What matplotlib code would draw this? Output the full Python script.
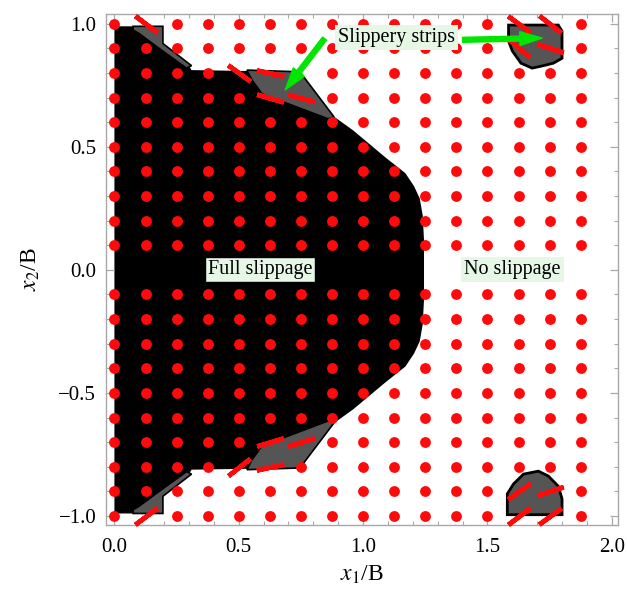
import matplotlib
matplotlib.use("Agg")
import matplotlib.pyplot as plt
from matplotlib.ticker import MultipleLocator

plt.rcParams['font.family'] = ['Liberation Serif', 'DejaVu Serif']
plt.rcParams['mathtext.fontset'] = 'stix'

# grid of sample points (row y = 0 is not drawn)
grid_x = [0.0, 0.125, 0.25, 0.375, 0.5, 0.625, 0.75, 0.875,
          1.0, 1.125, 1.25, 1.375, 1.5, 1.625, 1.75, 1.875]
grid_y = [-1.0, -0.9, -0.8, -0.7, -0.6, -0.5, -0.4, -0.3, -0.2, -0.1,
          0.1, 0.2, 0.3, 0.4, 0.5, 0.6, 0.7, 0.8, 0.9, 1.0]

# points inside slippery strips, drawn as short oriented dashes
seg_x = [0.125, 0.5, 0.625, 0.625, 0.75, 1.625, 1.75, 1.625, 1.75,
         0.125, 0.5, 0.625, 0.625, 0.75, 1.625, 1.75, 1.625, 1.75]
seg_y = [1.0, 0.8, 0.8, 0.7, 0.7, 1.0, 1.0, 0.9, 0.9,
         -1.0, -0.8, -0.8, -0.7, -0.7, -1.0, -1.0, -0.9, -0.9]
seg_ang = [-37, -36, -12, -16, -15, -36, -38, -40, -18,
           37, 38, 12, 17, 17, 37, 36, 35, 18]
# point hidden under the arrow
hidden = [(0.75, 0.8)]

# upper half of the full-slippage region outline (mirrored for lower half)
slip_x = [0.0, 0.195, 0.195, 0.30, 0.31, 0.745, 0.88, 0.96, 1.09, 1.17,
          1.205, 1.228, 1.24, 1.245, 1.245]
slip_y = [0.99, 0.99, 0.92, 0.83, 0.812, 0.805, 0.625, 0.567, 0.457, 0.393,
          0.34, 0.29, 0.22, 0.12, 0.0]

# gray slippery strips (upper half, mirrored)
strip1_x = [0.075, 0.195, 0.195, 0.31, 0.29, 0.18, 0.10, 0.075]
strip1_y = [0.99, 0.99, 0.92, 0.83, 0.82, 0.90, 0.96, 0.975]
strip2_x = [0.533, 0.746, 0.883, 0.859, 0.594, 0.553]
strip2_y = [0.812, 0.805, 0.622, 0.614, 0.715, 0.772]

# corner blobs on the right
blob_tr_x = [1.585, 1.785, 1.80, 1.80, 1.765, 1.725, 1.68, 1.635, 1.60, 1.585]
blob_tr_y = [0.995, 0.995, 0.97, 0.86, 0.84, 0.83, 0.82, 0.84, 0.89, 0.93]
blob_br_x = [1.58, 1.58, 1.605, 1.645, 1.705, 1.745, 1.785, 1.80, 1.80]
blob_br_y = [-0.995, -0.91, -0.87, -0.83, -0.818, -0.838, -0.879, -0.93, -0.995]

red = '#ff0a0a'
gray = '#555555'
green = '#00e600'
label_bg = '#e6f7e6'

fig = plt.figure(figsize=(6.27, 5.98), dpi=100)
ax = fig.add_axes([0.169, 0.122, 0.8166, 0.8546])

# full slippage region
out_x = slip_x + slip_x[::-1]
out_y = slip_y + [-v for v in slip_y[::-1]]
ax.fill(out_x, out_y, color='black', lw=0, zorder=1)

for sx, sy in [(strip1_x, strip1_y), (strip2_x, strip2_y)]:
    ax.fill(sx, sy, facecolor=gray, edgecolor='black', lw=1.2, zorder=2)
    ax.fill(sx, [-v for v in sy], facecolor=gray, edgecolor='black', lw=1.2, zorder=2)
ax.fill(blob_tr_x, blob_tr_y, facecolor=gray, edgecolor='black', lw=2, zorder=2)
ax.fill(blob_br_x, blob_br_y, facecolor=gray, edgecolor='black', lw=2, zorder=2)

# red sample points
skip = set(zip(seg_x, seg_y)) | set(hidden)
dot_x, dot_y = [], []
for gx in grid_x:
    for gy in grid_y:
        if (gx, gy) not in skip:
            dot_x.append(gx)
            dot_y.append(gy)
ax.plot(dot_x, dot_y, 'o', color=red, ms=7.8, mew=0, zorder=3)

for sx, sy, a in zip(seg_x, seg_y, seg_ang):
    ax.plot([sx], [sy], marker=(2, 2, a - 90), color=red, ms=20, mew=3.4,
            linestyle='none', zorder=3, clip_on=False)

# labels
ax.text(0.585, 0.0, 'Full slippage', fontsize=14.5, ha='center', va='center',
        bbox=dict(boxstyle='square,pad=0.15', fc=label_bg, ec='black', lw=1), zorder=4)
ax.text(1.6, 0.0, 'No slippage', fontsize=14.5, ha='center', va='center',
        bbox=dict(boxstyle='square,pad=0.15', fc=label_bg, ec='none'), zorder=4)
ax.text(1.133, 0.943, 'Slippery strips', fontsize=14.5, ha='center', va='center',
        bbox=dict(boxstyle='square,pad=0.15', fc=label_bg, ec='none'), zorder=4)

arrow = dict(arrowstyle='simple,head_length=1.6,head_width=1.0,tail_width=0.36',
             color=green, mutation_scale=10, shrinkA=0, shrinkB=0)
ax.annotate('', xy=(0.687, 0.732), xytext=(0.845, 0.94), arrowprops=arrow, zorder=5)
ax.annotate('', xy=(1.72, 0.942), xytext=(1.40, 0.935), arrowprops=arrow, zorder=5)

ax.set_xlim(-0.034, 2.025)
ax.set_ylim(-1.037, 1.04)
ax.xaxis.set_major_locator(MultipleLocator(0.5))
ax.yaxis.set_major_locator(MultipleLocator(0.5))
ax.xaxis.set_minor_locator(MultipleLocator(0.1))
ax.yaxis.set_minor_locator(MultipleLocator(0.1))
ax.xaxis.set_major_formatter(plt.FuncFormatter(lambda v, p: f'{v:.1f}'.replace('-', '\u2212')))
ax.yaxis.set_major_formatter(plt.FuncFormatter(lambda v, p: f'{v:.1f}'.replace('-', '\u2212')))

frame = '#a8a8a8'
for s in ax.spines.values():
    s.set_color(frame)
    s.set_linewidth(1.0)
ax.tick_params(which='both', direction='in', top=True, right=True, color=frame,
               labelcolor='black')
ax.tick_params(which='major', length=6, width=0.9, labelsize=15)
ax.tick_params(axis='x', which='major', pad=9)
ax.tick_params(axis='y', which='major', pad=7)
ax.tick_params(which='minor', length=3, width=0.8)

ax.set_xlabel(r'$x_1$/B', fontsize=17, labelpad=5)
ax.set_ylabel(r'$x_2$/B', fontsize=17, labelpad=12)

fig.savefig('out.png', dpi=100)
